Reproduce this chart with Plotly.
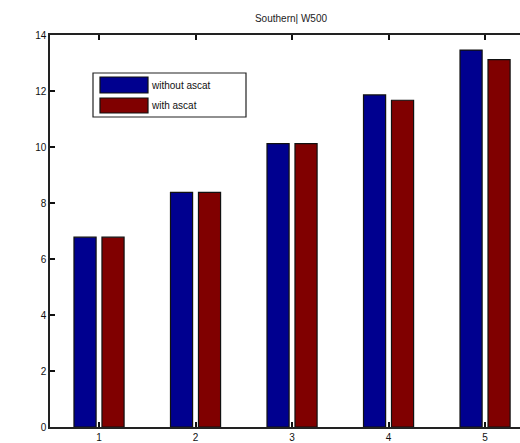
import plotly.graph_objects as go

# Grouped bar data
groups = [1, 2, 3, 4, 5]
without_ascat = [6.78, 8.38, 10.12, 11.86, 13.46]
with_ascat = [6.78, 8.38, 10.12, 11.67, 13.12]
series_names = ["without ascat", "with ascat"]
series_colors = ["#00008F", "#800000"]
y_ticks = [0, 2, 4, 6, 8, 10, 12, 14]

W, H = 520, 443
L, R, T, B = 50, 0, 35, 16

fig = go.Figure()
for name, vals, col in zip(series_names, [without_ascat, with_ascat], series_colors):
    fig.add_trace(go.Bar(
        x=groups, y=vals, name=name,
        marker=dict(color=col, line=dict(color="#111111", width=1.2)),
        showlegend=False,
    ))

font = dict(family="Liberation Sans, Arial, sans-serif", size=10, color="#111111")

fig.update_layout(
    width=W, height=H,
    margin=dict(l=L, r=R, t=T, b=B, pad=0),
    paper_bgcolor="white", plot_bgcolor="white",
    barmode="group", bargap=0.42, bargroupgap=0.21,
    font=font,
    title=dict(text="Southern| W500", x=(291 - L) / (W - L - R), xref="paper",
               y=1 - 18 / H, yanchor="middle", xanchor="center",
               font=dict(size=10, color="#222222")),
    xaxis=dict(range=[0.492, 5.362], tickvals=groups, ticktext=[str(g) for g in groups],
               ticks="inside", ticklen=5, tickcolor="#111111", tickwidth=1.5, showline=True,
               linecolor="#222222", linewidth=1.5, mirror="ticks", showgrid=False,
               zeroline=False, tickfont=font),
    yaxis=dict(range=[0, 14], tickvals=y_ticks, ticks="inside", ticklen=5,
               tickcolor="#111111", tickwidth=1.5, showline=True, linecolor="#222222",
               linewidth=1.5, showgrid=False, zeroline=False, tickfont=font),
)

# Legend box drawn in paper coordinates
pw, ph = W - L - R, H - T - B
def px(x):
    return (x - L) / pw
def py(y):
    return (H - B - y) / ph

fig.add_shape(type="rect", xref="paper", yref="paper",
              x0=px(93), x1=px(246), y0=py(117), y1=py(73),
              line=dict(color="#222222", width=1.2), fillcolor="white", layer="above")
swatch_rows = [(77, 93), (98, 113)]
for (y0, y1), name, col in zip(swatch_rows, series_names, series_colors):
    fig.add_shape(type="rect", xref="paper", yref="paper",
                  x0=px(100), x1=px(148), y0=py(y1), y1=py(y0),
                  line=dict(color="#111111", width=1.2), fillcolor=col, layer="above")
    fig.add_annotation(xref="paper", yref="paper", x=px(149), y=py((y0 + y1) / 2),
                       text=name, showarrow=False, xanchor="left", yanchor="middle",
                       font=dict(size=10, color="#111111"))

fig.write_html("out.html")
